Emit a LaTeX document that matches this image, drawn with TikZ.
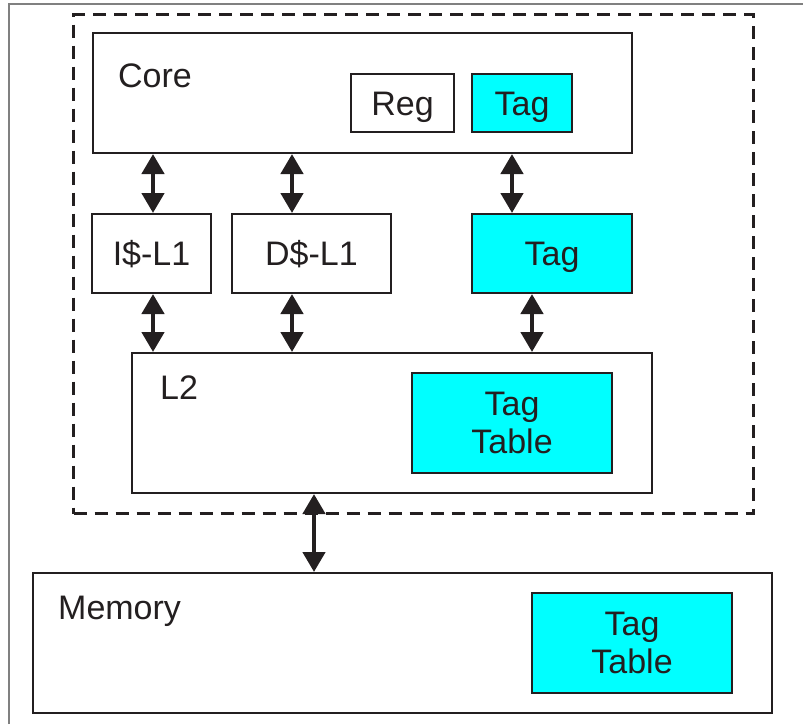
\documentclass[tikz,border=0pt]{standalone}
\usepackage{fontspec}
\setmainfont{Liberation Sans}
\usetikzlibrary{arrows.meta}
\definecolor{ink}{HTML}{231F20}
\definecolor{tagcyan}{HTML}{00FFFF}
\tikzset{
  blk/.style={draw=ink, line width=2pt, fill=white, inner sep=0pt, anchor=north west,
    font=\fontsize{34}{38}\selectfont, align=center, text=ink},
  one/.style={text height=24pt, text depth=0pt},
  tagblk/.style={blk, fill=tagcyan},
  lbl/.style={anchor=base west, inner sep=0pt, font=\fontsize{34}{38}\selectfont, text=ink},
  bus/.style={line width=4.5pt, draw=ink,
    {Triangle[width=22pt,length=20pt]}-{Triangle[width=22pt,length=20pt]}},
}
\begin{document}
\begin{tikzpicture}[x=1pt,y=-1pt]
\useasboundingbox (0,0) rectangle (803,724);
% outer frame (partial)
\draw[gray, line width=1.5pt] (9,724) -- (9,4) -- (803,4);
% dashed chip boundary
\node[draw=ink, dashed, dash pattern=on 13pt off 8pt, line width=3pt, inner sep=0pt,
  minimum width=680pt, minimum height=499pt, anchor=north west] (chip) at (72,13) {};
% Core
\node[blk, minimum width=539pt, minimum height=120pt] (core) at (92,32) {};
\node[lbl] (corelbl) at (118,87) {Core};
\node[blk, one, minimum width=103pt, minimum height=58pt] (reg) at (350,73) {Reg};
\node[tagblk, one, minimum width=100pt, minimum height=58pt] (ctag) at (471,73) {Tag};
% L1 level
\node[blk, one, minimum width=119pt, minimum height=79pt] (il1) at (91,213) {I\$-L1};
\node[blk, one, minimum width=159pt, minimum height=79pt] (dl1) at (231,213) {D\$-L1};
\node[tagblk, one, minimum width=160pt, minimum height=79pt] (mtag) at (471,213) {Tag};
% L2
\node[blk, minimum width=520pt, minimum height=140pt] (l2) at (131,352) {};
\node[lbl] (l2lbl) at (160,399) {L2};
\node[tagblk, minimum width=200pt, minimum height=100pt] (l2tt) at (411,372) {Tag\\Table};
% Memory
\node[blk, minimum width=739pt, minimum height=140pt] (mem) at (32,572) {};
\node[lbl] (memlbl) at (58,619) {Memory};
\node[tagblk, minimum width=200pt, minimum height=100pt] (memtt) at (531,592) {Tag\\Table};
% buses
\draw[bus] ([xshift=1.5pt]il1.north |- core.south) -- ([xshift=1.5pt]il1.north);
\draw[bus] ([xshift=1.5pt]il1.south) -- ([xshift=1.5pt]il1.south |- l2.north);
\draw[bus] ([xshift=-19.5pt]dl1.north |- core.south) -- ([xshift=-19.5pt]dl1.north);
\draw[bus] ([xshift=-19.5pt]dl1.south) -- ([xshift=-19.5pt]dl1.south |- l2.north);
\draw[bus] ([xshift=-40pt]mtag.north |- core.south) -- ([xshift=-40pt]mtag.north);
\draw[bus] ([xshift=-20pt]mtag.south) -- ([xshift=-20pt]mtag.south |- l2.north);
\draw[bus] ([xshift=-78pt]l2.south) -- ([xshift=-78pt]l2.south |- mem.north);
\end{tikzpicture}
\end{document}
